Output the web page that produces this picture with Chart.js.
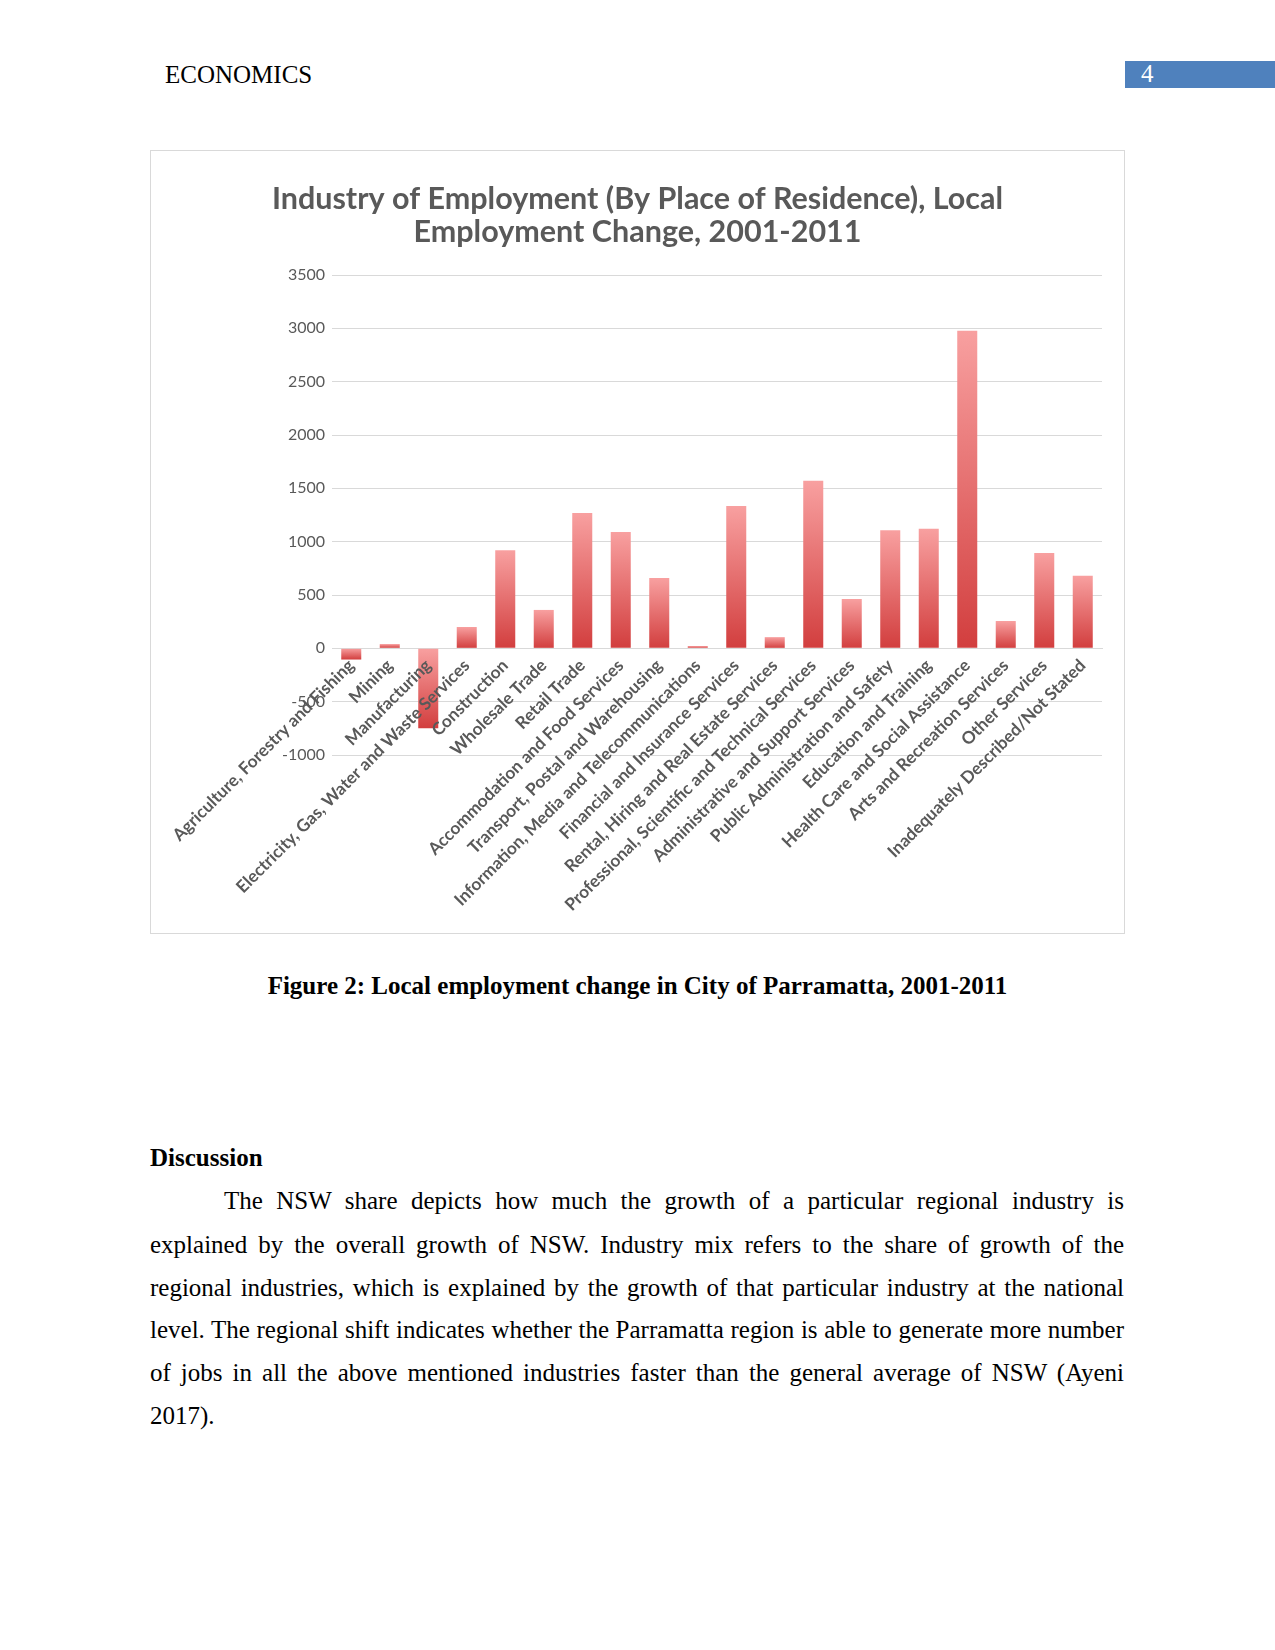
<!DOCTYPE html>
<html>
<head>
<meta charset="utf-8">
<script src="https://cdn.jsdelivr.net/npm/chart.js@4/dist/chart.umd.min.js"></script>
<style>
  html, body { margin: 0; padding: 0; background: #fff; }
  body { width: 1275px; height: 1650px; position: relative; overflow: hidden; font-family: "Liberation Serif", "Times New Roman", serif; color: #000; }
  .abs { position: absolute; white-space: nowrap; }
  #header { left: 165px; top: 60px; font-size: 25px; line-height: 30px; }
  #pagebox { left: 1125px; top: 61px; width: 150px; height: 27px; background: #4F81BD; }
  #pagenum { left: 1141px; top: 59px; font-size: 25px; line-height: 30px; color: #fff; }
  #frame { position: absolute; left: 150px; top: 150px; width: 975px; height: 784px; box-sizing: border-box; border: 1px solid #d9d9d9; }
  #chart { position: absolute; left: 0; top: 0; }
  #caption { left: 0; width: 1275px; text-align: center; top: 971px; font-size: 25px; font-weight: bold; line-height: 30px; }
  #disc { left: 150px; top: 1143px; font-size: 25px; font-weight: bold; line-height: 30px; }
  .pl { position: absolute; left: 150px; width: 974px; font-size: 25px; line-height: 30px; text-align: justify; text-align-last: justify; white-space: nowrap; }
  .pl.last { text-align-last: left; }
</style>
</head>
<body>
<div class="abs" id="header">ECONOMICS</div>
<div class="abs" id="pagebox"></div>
<div class="abs" id="pagenum">4</div>

<div id="frame"><canvas id="chart" width="973" height="782"></canvas></div>

<div class="abs" id="caption">Figure 2: Local employment change in City of Parramatta, 2001-2011</div>
<div class="abs" id="disc">Discussion</div>
<div class="pl" style="top:1186px; text-indent:74px;">The NSW share depicts how much the growth of a particular regional industry is</div>
<div class="pl" style="top:1230px;">explained by the overall growth of NSW. Industry mix refers to the share of growth of the</div>
<div class="pl" style="top:1273px;">regional industries, which is explained by the growth of that particular industry at the national</div>
<div class="pl" style="top:1315px;">level. The regional shift indicates whether the Parramatta region is able to generate more number</div>
<div class="pl" style="top:1358px;">of jobs in all the above mentioned industries faster than the general average of NSW (Ayeni</div>
<div class="pl last" style="top:1401px;">2017).</div>

<script>
const chartTitle = ["Industry of Employment (By Place of Residence), Local", "Employment Change, 2001-2011"];
const categories = [
  "Agriculture, Forestry and Fishing",
  "Mining",
  "Manufacturing",
  "Electricity, Gas, Water and Waste Services",
  "Construction",
  "Wholesale Trade",
  "Retail Trade",
  "Accommodation and Food Services",
  "Transport, Postal and Warehousing",
  "Information, Media and Telecommunications",
  "Financial and Insurance Services",
  "Rental, Hiring and Real Estate Services",
  "Professional, Scientific and Technical Services",
  "Administrative and Support Services",
  "Public Administration and Safety",
  "Education and Training",
  "Health Care and Social Assistance",
  "Arts and Recreation Services",
  "Other Services",
  "Inadequately Described/Not Stated"
];
const employmentChange = [-105, 40, -750, 200, 920, 360, 1268, 1090, 660, 22, 1334, 105, 1572, 463, 1108, 1122, 2978, 256, 894, 680];
const yTickValues = [-1000, -500, 0, 500, 1000, 1500, 2000, 2500, 3000, 3500];

const textGrey = '#595959';
const gridGrey = '#d9d9d9';

function barGradient(ctx) {
  const chart = ctx.chart;
  const y = chart.scales && chart.scales.y;
  if (!chart.chartArea || !y) return '#E06666';
  const v = ctx.raw;
  const top = y.getPixelForValue(Math.max(v, 0));
  const bottom = y.getPixelForValue(Math.min(v, 0));
  if (!isFinite(top) || !isFinite(bottom) || top === bottom) return '#E06666';
  const g = chart.ctx.createLinearGradient(0, top, 0, bottom);
  g.addColorStop(0, '#F8A0A0');
  g.addColorStop(1, '#D23E3E');
  return g;
}

new Chart(document.getElementById('chart'), {
  type: 'bar',
  data: {
    labels: categories,
    datasets: [{
      data: employmentChange,
      backgroundColor: barGradient,
      borderWidth: 0,
      categoryPercentage: 1.0,
      barPercentage: 0.52
    }]
  },
  options: {
    responsive: false,
    animation: false,
    devicePixelRatio: 1,
    layout: { padding: { left: 22, right: 22, top: 0, bottom: 178 } },
    plugins: {
      legend: { display: false },
      tooltip: { enabled: false },
      title: {
        display: true,
        text: chartTitle,
        color: textGrey,
        font: { family: 'Lato', size: 30.5, weight: 'bold', lineHeight: 1.082 },
        padding: { top: 31.5, bottom: 26.5 }
      }
    },
    scales: {
      x: {
        position: { y: 0 },
        grid: { display: false, drawTicks: false },
        border: { display: true, color: gridGrey, width: 1 },
        ticks: {
          z: 1,
          autoSkip: false,
          maxRotation: 45,
          minRotation: 45,
          padding: 7,
          color: textGrey,
          font: { family: 'Lato', size: 17.2, weight: 'bold' }
        }
      },
      y: {
        min: -1000,
        max: 3500,
        afterBuildTicks: (scale) => { scale.ticks = yTickValues.map(v => ({ value: v })); },
        afterFit: (scale) => { scale.width = 159; },
        grid: { color: gridGrey, lineWidth: 1, drawTicks: false },
        border: { display: false },
        ticks: {
          padding: 7,
          color: textGrey,
          font: { family: 'Lato', size: 16 },
          callback: (v) => String(v)
        }
      }
    }
  }
});
</script>
</body>
</html>
